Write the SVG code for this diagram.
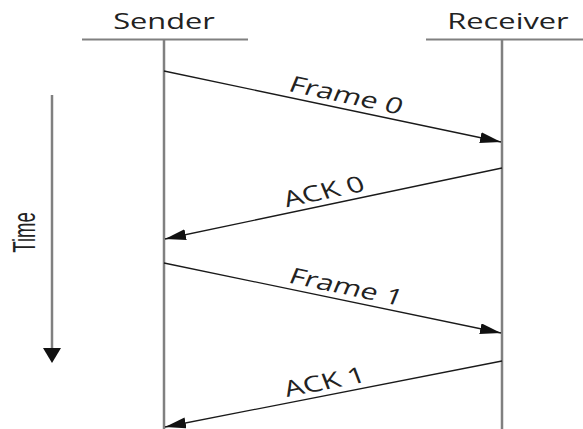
<svg xmlns="http://www.w3.org/2000/svg" width="583" height="429" viewBox="0 0 583 429">
<style>
.lbl{font-family:"Open Sans","Liberation Sans",sans-serif;font-size:22px;fill:#222;text-anchor:middle}
.life{stroke:#808080;stroke-width:2.5;fill:none}
.head{stroke:#808080;stroke-width:2;fill:none}
.msg{stroke:#1a1a1a;stroke-width:1.3;fill:none;marker-end:url(#ah)}
</style>
<defs>
<marker id="ah" markerUnits="userSpaceOnUse" markerWidth="22" markerHeight="12" refX="21" refY="5.5" orient="auto">
<path d="M0,0 L21,5.5 L0,11 Z" fill="#111"/>
</marker>
</defs>
<rect width="583" height="429" fill="#fff"/>
<g id="sender">
<line class="head" x1="82" y1="39.5" x2="248" y2="39.5"/>
<line class="life" x1="164" y1="39.5" x2="164" y2="429"/>
<text class="lbl" transform="translate(164,29) scale(1.4,1)">Sender</text>
</g>
<g id="receiver">
<line class="head" x1="426" y1="39.5" x2="583" y2="39.5"/>
<line class="life" x1="502" y1="39.5" x2="502" y2="429"/>
<text class="lbl" transform="translate(508,29) scale(1.4,1)">Receiver</text>
</g>
<g id="time">
<line x1="52" y1="95" x2="52" y2="350" stroke="#808080" stroke-width="2.5"/>
<polygon points="43,348 61,348 52,363" fill="#111"/>
<text transform="translate(35,232.5) rotate(-90) scale(0.58,1)" font-family="Liberation Sans, sans-serif" font-size="32" fill="#222" text-anchor="middle">Time</text>
</g>
<g id="connectors">
<line class="msg" x1="164" y1="71" x2="501" y2="142"/>
<line class="msg" x1="502" y1="168" x2="165" y2="239"/>
<line class="msg" x1="164" y1="263" x2="501" y2="333"/>
<line class="msg" x1="502" y1="361" x2="165" y2="427"/>
<text class="lbl" transform="translate(341,108.4) scale(1.4,1) rotate(16.5)" y="-6">Frame 0</text>
<text class="lbl" transform="translate(329,204.5) scale(1.4,1) rotate(-16.4)" y="-6">ACK 0</text>
<text class="lbl" transform="translate(341,299.9) scale(1.4,1) rotate(16.3)" y="-6">Frame 1</text>
<text class="lbl" transform="translate(329.5,395) scale(1.4,1) rotate(-15.3)" y="-6">ACK 1</text>
</g>
</svg>
